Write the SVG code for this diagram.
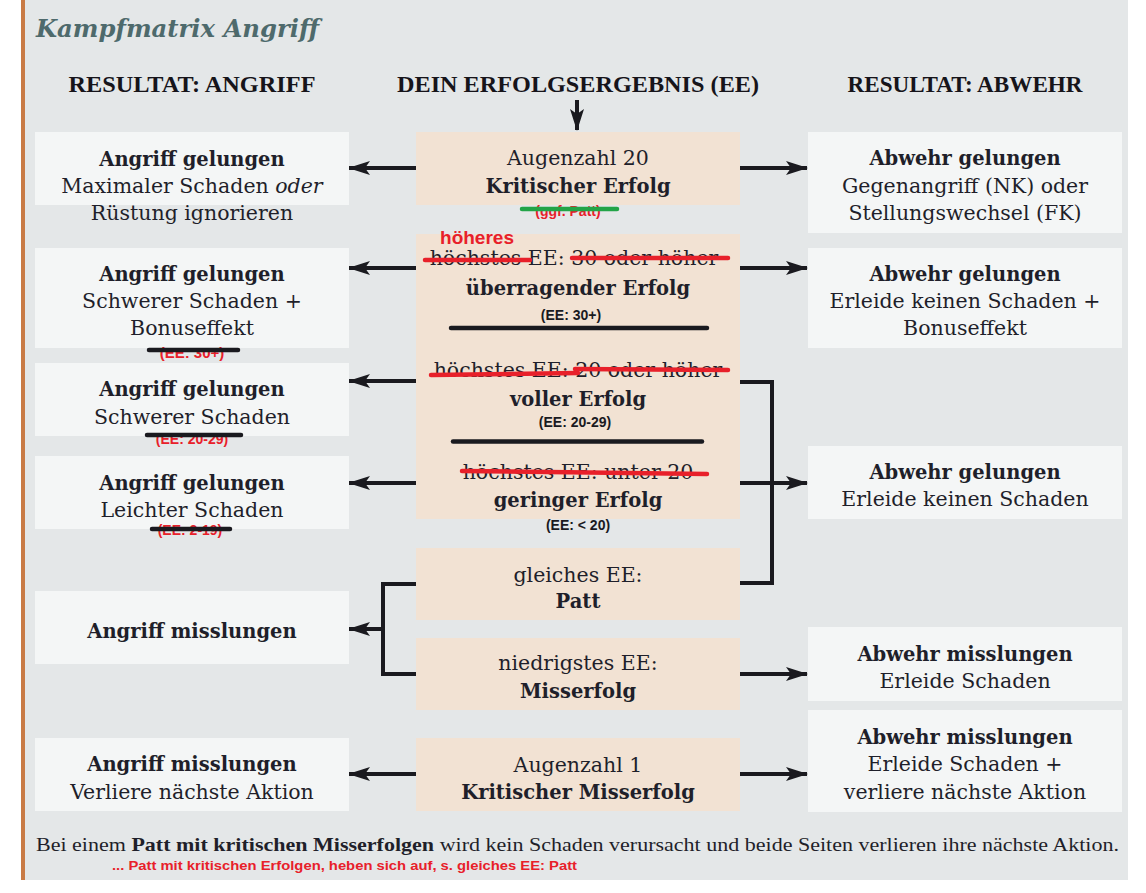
<svg xmlns="http://www.w3.org/2000/svg" width="1146" height="893" viewBox="0 0 1146 893">
<defs>
<marker id="ah" markerUnits="userSpaceOnUse" markerWidth="22" markerHeight="14" viewBox="0 0 22 14" refX="21" refY="7" orient="auto">
<path d="M0,0 L22,7 L0,14 L5,7 Z" fill="#1a1a1f"/>
</marker>
<style>
.bg{fill:#e4e7e8}
.nl{fill:#f4f6f6}
.nc{fill:#f2e2d3}
text{font-family:"DejaVu Serif","Liberation Serif",serif;fill:#1f1f2a;text-anchor:middle}
.t{font-size:20.5px}
.b{font-size:19.5px;font-weight:bold}
.hd{font-family:"Liberation Serif",serif;font-weight:bold;font-size:24px;fill:#16141a}
.red{font-family:"Liberation Sans",Arial,sans-serif;font-weight:bold;fill:#e8202a}
.ee{font-family:"Liberation Sans",Arial,sans-serif;font-weight:bold;font-size:14px;fill:#1a1a1f}
.c{stroke:#1a1a1f;stroke-width:4;fill:none}
.sr{stroke:#e8202a;stroke-width:4.5;stroke-linecap:round}
.sk{stroke:#1a1a1f;stroke-width:4.5;stroke-linecap:round}
</style>
</defs>
<rect x="0" y="0" width="1146" height="893" fill="#ffffff"/>
<rect x="21" y="0" width="1107" height="880" class="bg"/>
<rect x="21" y="0" width="4" height="880" fill="#c97b45"/>
<text x="36" y="37" style="font-family:'DejaVu Serif',serif;font-style:italic;font-weight:bold;font-size:25px;fill:#4e6a6c;text-anchor:start" textLength="283" lengthAdjust="spacingAndGlyphs">Kampfmatrix Angriff</text>
<text class="hd" x="192" y="92" textLength="247" lengthAdjust="spacingAndGlyphs">RESULTAT: ANGRIFF</text>
<text class="hd" x="578" y="92" textLength="362" lengthAdjust="spacingAndGlyphs">DEIN ERFOLGSERGEBNIS (EE)</text>
<text class="hd" x="965" y="92" textLength="235" lengthAdjust="spacingAndGlyphs">RESULTAT: ABWEHR</text>

<g id="connectors">
<line class="c" x1="577" y1="100" x2="577" y2="130" marker-end="url(#ah)"/>
<line class="c" x1="416" y1="168" x2="349" y2="168" marker-end="url(#ah)"/>
<line class="c" x1="740" y1="168" x2="807" y2="168" marker-end="url(#ah)"/>
<line class="c" x1="416" y1="268" x2="349" y2="268" marker-end="url(#ah)"/>
<line class="c" x1="740" y1="268" x2="807" y2="268" marker-end="url(#ah)"/>
<line class="c" x1="416" y1="381" x2="349" y2="381" marker-end="url(#ah)"/>
<line class="c" x1="416" y1="483" x2="349" y2="483" marker-end="url(#ah)"/>
<path class="c" d="M740,382 H772 V583 H740 M740,483 H772"/>
<line class="c" x1="772" y1="483" x2="807" y2="483" marker-end="url(#ah)"/>
<path class="c" d="M416,584 H383 V674 H416"/>
<line class="c" x1="383" y1="629" x2="349" y2="629" marker-end="url(#ah)"/>
<line class="c" x1="740" y1="674" x2="807" y2="674" marker-end="url(#ah)"/>
<line class="c" x1="416" y1="774" x2="349" y2="774" marker-end="url(#ah)"/>
<line class="c" x1="740" y1="774" x2="807" y2="774" marker-end="url(#ah)"/>
</g>

<g id="c1">
<rect class="nc" x="416" y="132" width="324" height="73"/>
<text class="t" x="578" y="165">Augenzahl 20</text>
<text class="b" x="578" y="193">Kritischer Erfolg</text>
<text class="red" x="568" y="216" font-size="14">(ggf. Patt)</text>
<line x1="522" y1="209" x2="617" y2="209" stroke="#22a447" stroke-width="4.5" stroke-linecap="round"/>
</g>
<g id="c2">
<rect class="nc" x="416" y="234" width="324" height="112"/>
<text class="red" x="477" y="244" font-size="19">höheres</text>
<text class="t" x="574" y="265">höchstes EE: 30 oder höher</text>
<line class="sr" x1="425" y1="260" x2="530" y2="260"/>
<line class="sr" x1="572" y1="258" x2="728" y2="258"/>
<text class="b" x="578" y="295">überragender Erfolg</text>
<text class="ee" x="571" y="320">(EE: 30+)</text>
<line class="sk" x1="451" y1="328" x2="707" y2="328"/>
</g>
<g id="c3">
<rect class="nc" x="416" y="346" width="324" height="98"/>
<text class="t" x="578" y="377">höchstes EE: 20 oder höher</text>
<line class="sr" x1="431" y1="375" x2="578" y2="373"/>
<line class="sr" x1="575" y1="369" x2="728" y2="370"/>
<text class="b" x="578" y="406">voller Erfolg</text>
<text class="ee" x="575" y="427">(EE: 20-29)</text>
<line class="sk" x1="453" y1="441.5" x2="702" y2="441.5"/>
</g>
<g id="c4">
<rect class="nc" x="416" y="444" width="324" height="75"/>
<text class="t" x="578" y="479">höchstes EE: unter 20</text>
<line class="sr" x1="462" y1="471" x2="707" y2="474"/>
<text class="b" x="578" y="507">geringer Erfolg</text>
<text class="ee" x="578" y="530">(EE: &lt; 20)</text>
</g>
<g id="c5">
<rect class="nc" x="416" y="548" width="324" height="72"/>
<text class="t" x="578" y="582">gleiches EE:</text>
<text class="b" x="578" y="608">Patt</text>
</g>
<g id="c6">
<rect class="nc" x="416" y="638" width="324" height="72"/>
<text class="t" x="578" y="670">niedrigstes EE:</text>
<text class="b" x="578" y="698">Misserfolg</text>
</g>
<g id="c7">
<rect class="nc" x="416" y="738" width="324" height="73"/>
<text class="t" x="578" y="772">Augenzahl 1</text>
<text class="b" x="578" y="799">Kritischer Misserfolg</text>
</g>

<g id="l1">
<rect class="nl" x="35" y="132" width="314" height="73"/>
<text class="b" x="192" y="166">Angriff gelungen</text>
<text class="t" x="192" y="193">Maximaler Schaden <tspan font-style="italic">oder</tspan></text>
<text class="t" x="192" y="220">Rüstung ignorieren</text>
</g>
<g id="l2">
<rect class="nl" x="35" y="248" width="314" height="100"/>
<text class="b" x="192" y="281">Angriff gelungen</text>
<text class="t" x="192" y="308">Schwerer Schaden +</text>
<text class="t" x="192" y="335">Bonuseffekt</text>
<text class="red" x="192" y="358" font-size="15">(EE: 30+)</text>
<line class="sk" x1="149" y1="350" x2="238" y2="350"/>
</g>
<g id="l3">
<rect class="nl" x="35" y="363" width="314" height="73"/>
<text class="b" x="192" y="396">Angriff gelungen</text>
<text class="t" x="192" y="424">Schwerer Schaden</text>
<text class="red" x="192" y="444" font-size="14">(EE: 20-29)</text>
<line class="sk" x1="147" y1="435" x2="241" y2="435"/>
</g>
<g id="l4">
<rect class="nl" x="35" y="456" width="314" height="73"/>
<text class="b" x="192" y="490">Angriff gelungen</text>
<text class="t" x="192" y="517">Leichter Schaden</text>
<text class="red" x="190" y="535" font-size="14">(EE: 2-19)</text>
<line class="sk" x1="152" y1="529" x2="230" y2="529"/>
</g>
<g id="l5">
<rect class="nl" x="35" y="591" width="314" height="73"/>
<text class="b" x="192" y="638">Angriff misslungen</text>
</g>
<g id="l6">
<rect class="nl" x="35" y="738" width="314" height="73"/>
<text class="b" x="192" y="771">Angriff misslungen</text>
<text class="t" x="192" y="799">Verliere nächste Aktion</text>
</g>

<g id="r1">
<rect class="nl" x="808" y="132" width="314" height="101"/>
<text class="b" x="965" y="165">Abwehr gelungen</text>
<text class="t" x="965" y="193">Gegenangriff (NK) oder</text>
<text class="t" x="965" y="220">Stellungswechsel (FK)</text>
</g>
<g id="r2">
<rect class="nl" x="808" y="248" width="314" height="100"/>
<text class="b" x="965" y="281">Abwehr gelungen</text>
<text class="t" x="965" y="308">Erleide keinen Schaden +</text>
<text class="t" x="965" y="335">Bonuseffekt</text>
</g>
<g id="r3">
<rect class="nl" x="808" y="446" width="314" height="73"/>
<text class="b" x="965" y="479">Abwehr gelungen</text>
<text class="t" x="965" y="506">Erleide keinen Schaden</text>
</g>
<g id="r4">
<rect class="nl" x="808" y="627" width="314" height="74"/>
<text class="b" x="965" y="661">Abwehr misslungen</text>
<text class="t" x="965" y="688">Erleide Schaden</text>
</g>
<g id="r5">
<rect class="nl" x="808" y="710" width="314" height="102"/>
<text class="b" x="965" y="744">Abwehr misslungen</text>
<text class="t" x="965" y="771">Erleide Schaden +</text>
<text class="t" x="965" y="799">verliere nächste Aktion</text>
</g>

<text x="36" y="851" style="font-family:'Liberation Serif',serif;font-size:19px;text-anchor:start" textLength="1083" lengthAdjust="spacingAndGlyphs">Bei einem <tspan font-weight="bold">Patt mit kritischen Misserfolgen</tspan> wird kein Schaden verursacht und beide Seiten verlieren ihre nächste Aktion.</text>
<text class="red" x="112" y="870" font-size="13" style="text-anchor:start" textLength="465" lengthAdjust="spacingAndGlyphs">... Patt mit kritischen Erfolgen, heben sich auf, s. gleiches EE: Patt</text>
</svg>
